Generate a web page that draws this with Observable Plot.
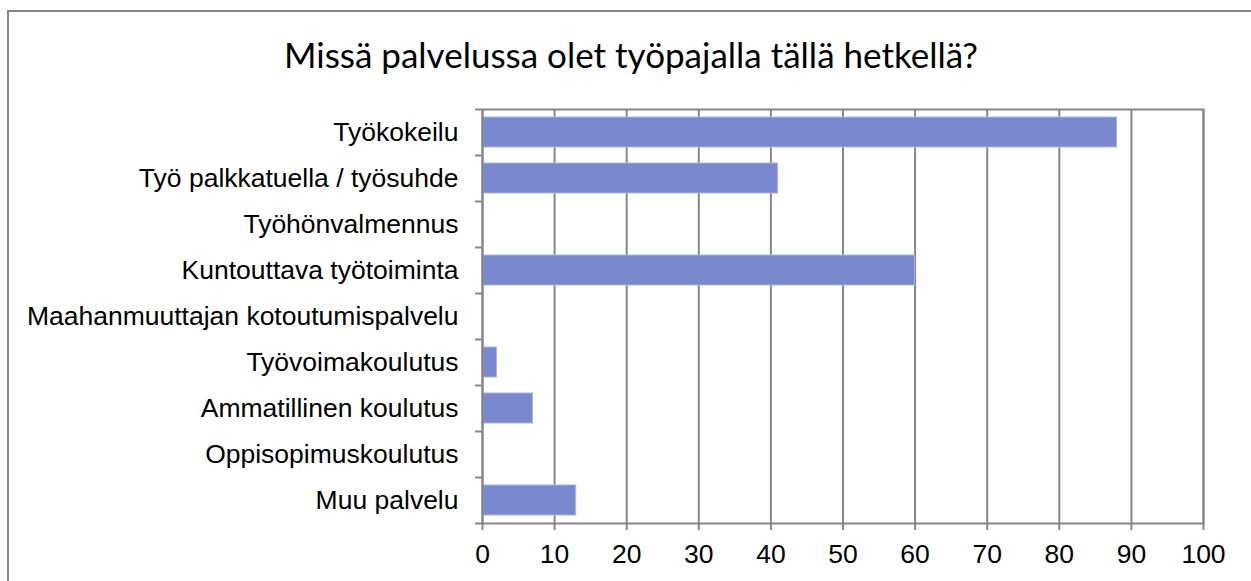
<!DOCTYPE html>
<html>
<head>
<meta charset="utf-8">
<script src="https://cdn.jsdelivr.net/npm/d3@7"></script>
<script src="https://cdn.jsdelivr.net/npm/@observablehq/plot@0.6"></script>
<style>
  html, body { margin: 0; padding: 0; background: #fff; overflow: hidden; }
  #wrap { position: relative; width: 1251px; height: 581px; }
  #border { position: absolute; left: 7px; top: 10px; width: 1260px; height: 600px;
            border-left: 2px solid #868686; border-top: 2px solid #868686; box-sizing: border-box; }
  #title { position: absolute; left: 0; top: 34px; width: 1262px; text-align: center;
           font-family: Lato, "Open Sans", sans-serif; font-size: 35px; color: #000; line-height: 40px; }
  #chart { position: absolute; left: 0; top: 0; }
</style>
</head>
<body>
<div id="wrap">
  <div id="border"></div>
  <div id="title">Missä palvelussa olet työpajalla tällä hetkellä?</div>
  <div id="chart"></div>
</div>
<script>
const categories = [
  "Työkokeilu",
  "Työ palkkatuella / työsuhde",
  "Työhönvalmennus",
  "Kuntouttava työtoiminta",
  "Maahanmuuttajan kotoutumispalvelu",
  "Työvoimakoulutus",
  "Ammatillinen koulutus",
  "Oppisopimuskoulutus",
  "Muu palvelu"
];
const values = [88, 41, 0, 60, 0, 2, 7, 0, 13];
const xTicks = [0, 10, 20, 30, 40, 50, 60, 70, 80, 90, 100];

const data = categories.map((c, i) => ({category: c, value: values[i]}));
const gray = "#868686";

const chart = Plot.plot({
  width: 1251,
  height: 581,
  marginLeft: 482,
  marginRight: 48,
  marginTop: 109,
  marginBottom: 58,
  style: {background: "transparent", fontFamily: "Liberation Sans, Arial, sans-serif", fontSize: "26.5px", color: "#000"},
  x: {domain: [0, 100], ticks: xTicks},
  y: {domain: categories, paddingInner: 0.35, paddingOuter: 0.175, label: null},
  marks: [
    Plot.gridX(xTicks, {stroke: gray, strokeOpacity: 1, strokeWidth: 2}),
    Plot.barX(data, {y: "category", x: "value", fill: "#7A89CE", stroke: "#A9B4E2", strokeWidth: 1}),
    Plot.frame({stroke: gray, strokeWidth: 2}),
    Plot.axisX(xTicks, {tickSize: 7, tickPadding: 14, stroke: gray, strokeWidth: 2, label: null, tickFormat: d => String(d)}),
    Plot.axisY({tickSize: 0, tickPadding: 24, label: null}),
    Plot.axisY(categories, {tickSize: 7, tickFormat: () => "", stroke: gray, strokeWidth: 2, dy: 23, label: null}),
    Plot.axisY([categories[0]], {tickSize: 7, tickFormat: () => "", stroke: gray, strokeWidth: 2, dy: -23, label: null})
  ]
});
document.getElementById("chart").appendChild(chart);
</script>
</body>
</html>
